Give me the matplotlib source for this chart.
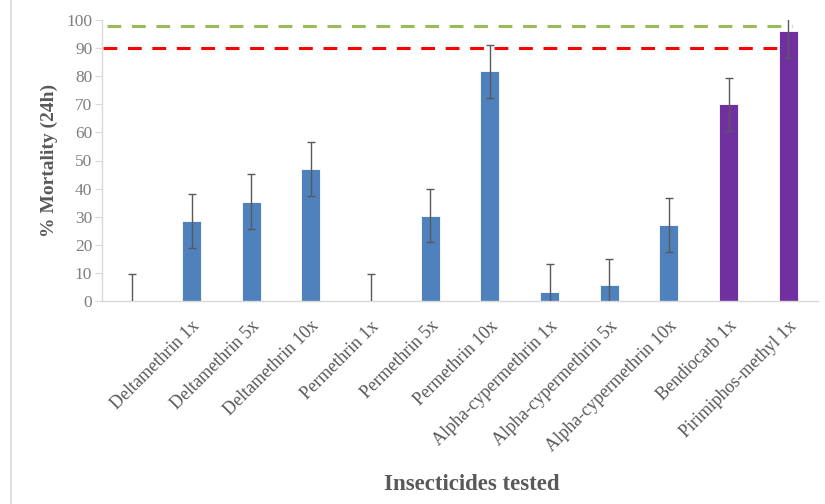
import matplotlib
matplotlib.use("Agg")
import matplotlib.pyplot as plt
import numpy as np
from matplotlib.lines import Line2D

# Insecticide bioassay results: 24 h mortality with error bars
categories = ["", "Deltamethrin 1x", "Deltamethrin 5x", "Deltamethrin 10x",
              "Permethrin 1x", "Permethrin 5x", "Permethrin 10x",
              "Alpha-cypermethrin 1x", "Alpha-cypermethrin 5x",
              "Alpha-cypermethrin 10x", "Bendiocarb 1x", "Pirimiphos-methyl 1x"]
mortality = [0.0, 28.5, 35.4, 47.0, 0.0, 30.4, 81.7, 3.3, 5.6, 27.0, 70.0, 96.0]
errors = [9.5, 9.6, 9.7, 9.5, 9.5, 9.4, 9.5, 9.7, 9.5, 9.6, 9.5, 9.5]
bar_colors = ["#4F81BD"] * 10 + ["#7030A0"] * 2
y_ticks = [0, 10, 20, 30, 40, 50, 60, 70, 80, 90, 100]

# WHO thresholds: 98% (susceptible) and 90% (resistance confirmed)
susceptible_level = 98
resistance_level = 90

serif = ["Liberation Serif", "DejaVu Serif"]
text_gray = "#595959"
axis_gray = "#D9D9D9"

fig = plt.figure(figsize=(8.25, 5.04), dpi=100)
ax = fig.add_axes([102 / 825, 1 - 301 / 504, (818 - 102) / 825, (301 - 20) / 504])

x = np.arange(len(categories))
ax.bar(x, mortality, width=0.32, color=bar_colors, edgecolor="white",
       linewidth=0.6, zorder=2)
ax.errorbar(x, mortality, yerr=errors, fmt="none", ecolor=text_gray,
            elinewidth=1.0, capsize=3, capthick=1.0, zorder=3)

ax.plot([-0.42, 11.07], [susceptible_level] * 2, color="#9BBB59", lw=2.2,
        dashes=(4.5, 3.5), zorder=1)
ax.plot([-0.48, 11.03], [resistance_level] * 2, color="#FF0000", lw=2.2,
        dashes=(4.5, 3.5), zorder=1)

ax.set_xlim(-0.5, len(categories) - 0.5)
ax.set_ylim(0, 100)
ax.set_yticks(y_ticks)
ax.set_yticklabels([str(v) for v in y_ticks], family=serif, fontsize=12.5,
                   color="#7F7F7F")
ax.tick_params(axis="y", length=5, width=0.8, color=axis_gray, pad=2)

ax.set_xticks(x)
ax.set_xticklabels(categories, rotation=45, ha="right", va="top",
                   rotation_mode="anchor", family=serif, fontsize=13,
                   color=text_gray)
ax.tick_params(axis="x", length=0, pad=12)

for side in ("top", "right"):
    ax.spines[side].set_visible(False)
for side in ("left", "bottom"):
    ax.spines[side].set_color(axis_gray)
    ax.spines[side].set_linewidth(1.0)

ax.set_ylabel("% Mortality (24h)", family=serif, fontsize=14,
              fontweight="bold", color=text_gray, labelpad=6)
fig.text(472 / 825, 1 - 485 / 504, "Insecticides tested", family=serif,
         fontsize=16.5, fontweight="bold", color=text_gray,
         ha="center", va="center")

# light frame edge on the left side of the figure
fig.add_artist(Line2D([11 / 825, 11 / 825], [0, 1], color=axis_gray, lw=1.2,
                      transform=fig.transFigure))

fig.savefig("out.png", dpi=100)
